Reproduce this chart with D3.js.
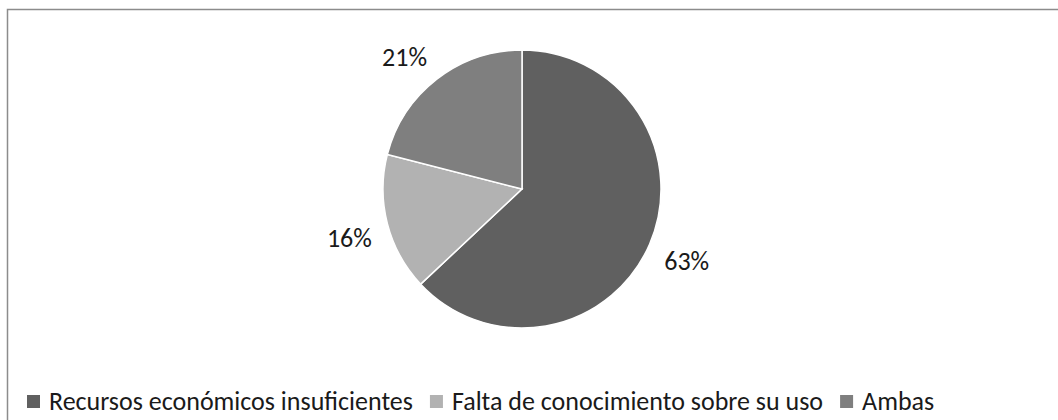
<!DOCTYPE html>
<html>
<head>
<meta charset="utf-8">
<script src="https://cdn.jsdelivr.net/npm/d3@7.9.0/dist/d3.min.js"></script>
<style>
  body { margin: 0; background: #fff; }
  svg { display: block; font-family: Carlito, Calibri, "Open Sans", sans-serif; }
</style>
</head>
<body>
<svg id="chart" width="1058" height="420"></svg>
<script>
const categories = ['Recursos económicos insuficientes', 'Falta de conocimiento sobre su uso', 'Ambas'];
const values = [63, 16, 21];
const sliceColors = ['#606060', '#b2b2b2', '#7f7f7f'];

const data = categories.map((label, i) => ({ label, value: values[i] }));

const svg = d3.select('#chart');

// chart frame (only top and left edges fall inside the picture)
svg.append('rect')
  .attr('x', 7.5).attr('y', 9.5)
  .attr('width', 1200).attr('height', 600)
  .attr('fill', 'none')
  .attr('stroke', '#8c8c8c')
  .attr('stroke-width', 1.5);

const cx = 522, cy = 189, radius = 139;
const fontSize = 26;
const color = d3.scaleOrdinal().domain(categories).range(sliceColors);

const pie = d3.pie().sort(null).value((d) => d.value);
const arcGenerator = d3.arc().innerRadius(0).outerRadius(radius);
const anchorArc = d3.arc().innerRadius(radius + 16).outerRadius(radius + 16);

const g = svg.append('g').attr('transform', `translate(${cx},${cy})`);

g.selectAll('path')
  .data(pie(data))
  .join('path')
  .attr('d', arcGenerator)
  .attr('fill', (d) => color(d.data.label))
  .attr('stroke', '#fff')
  .attr('stroke-width', 1.5);

// outside-end labels: push the text box away from the anchor point
const labelH = 20;
g.selectAll('text')
  .data(pie(data))
  .join('text')
  .attr('text-anchor', 'middle')
  .attr('dy', '0.35em')
  .attr('font-size', fontSize)
  .attr('fill', '#1a1a1a')
  .text((d) => `${d.data.value}%`)
  .attr('transform', function (d) {
    const [ax, ay] = anchorArc.centroid(d);
    const w = this.getComputedTextLength();
    const tx = ax + Math.sign(ax) * w / 2;
    const ty = ay + Math.sign(ay) * labelH / 2;
    return `translate(${tx},${ty})`;
  });

// legend, laid out left to right
const legend = svg.append('g').attr('transform', 'translate(27,0)');
let x = 0;
data.forEach((d) => {
  const item = legend.append('g').attr('transform', `translate(${x},0)`);
  item.append('rect')
    .attr('x', 0).attr('y', 395)
    .attr('width', 13).attr('height', 13)
    .attr('fill', color(d.label));
  const t = item.append('text')
    .attr('x', 22).attr('y', 410)
    .attr('font-size', fontSize)
    .attr('fill', '#1a1a1a')
    .text(d.label);
  x += 22 + t.node().getComputedTextLength() + 17;
});
</script>
</body>
</html>
